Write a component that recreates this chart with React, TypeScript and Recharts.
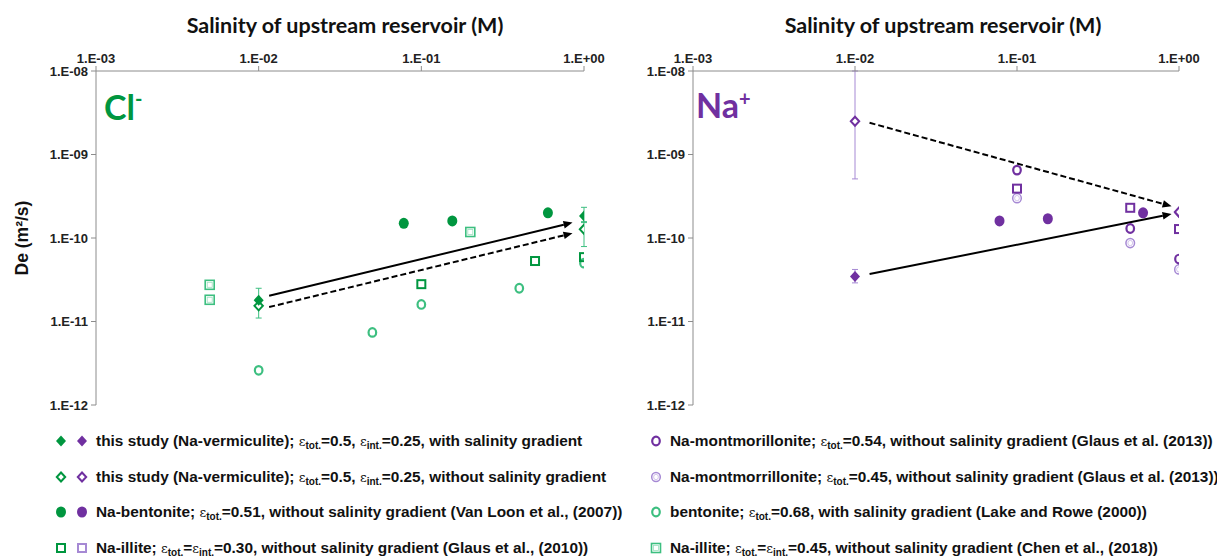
import React from "react";
import { ScatterChart, Scatter, XAxis, YAxis, ErrorBar, ReferenceLine } from "recharts";

type Pt = { x: number; y: number; err?: [number, number] };

const GREEN = "#00963f";
const GREEN_LIGHT = "#3dbf80";
const PURPLE = "#7030a0";
const PURPLE_LIGHT = "#a689d4";
const AXIS = "#8c8c8c";

const X_TICKS = [0.001, 0.01, 0.1, 1];
const Y_TICKS = [1e-12, 1e-11, 1e-10, 1e-9, 1e-8];

// Cl- panel
const clWithGradient: Pt[] = [
  { x: 0.01, y: 1.8e-11, err: [0.3e-11, 0.7e-11] },
  { x: 1, y: 1.83e-10, err: [0.3e-10, 0.5e-10] },
];
const clWithoutGradient: Pt[] = [
  { x: 0.01, y: 1.54e-11, err: [0.44e-11, 0.3e-11] },
  { x: 1, y: 1.27e-10, err: [0.48e-10, 0.3e-10] },
];
const clBentonite: Pt[] = [
  { x: 0.078, y: 1.5e-10 },
  { x: 0.155, y: 1.6e-10 },
  { x: 0.6, y: 2.0e-10 },
];
const clIlliteGlaus: Pt[] = [
  { x: 0.1, y: 2.8e-11 },
  { x: 0.5, y: 5.3e-11 },
  { x: 1, y: 5.9e-11 },
];
const clBentoniteLake: Pt[] = [
  { x: 0.01, y: 2.6e-12 },
  { x: 0.05, y: 7.4e-12 },
  { x: 0.1, y: 1.6e-11 },
  { x: 0.4, y: 2.5e-11 },
  { x: 1, y: 5.0e-11 },
];
const clIlliteChen: Pt[] = [
  { x: 0.005, y: 2.75e-11 },
  { x: 0.005, y: 1.82e-11 },
  { x: 0.2, y: 1.18e-10 },
];
const clArrowSolid = [{ x: 0.0116, y: 2.03e-11 }, { x: 0.85, y: 1.53e-10 }];
const clArrowDashed = [{ x: 0.0116, y: 1.49e-11 }, { x: 0.85, y: 1.14e-10 }];

// Na+ panel
const naWithGradient: Pt[] = [
  { x: 0.01, y: 3.45e-11, err: [0.55e-11, 0.75e-11] },
  { x: 1, y: 2.0e-10 },
];
const naWithoutGradient: Pt[] = [
  { x: 0.01, y: 2.5e-9, err: [1.99e-9, 7.5e-9] },
  { x: 1, y: 2.05e-10 },
];
const naBentonite: Pt[] = [
  { x: 0.078, y: 1.6e-10 },
  { x: 0.155, y: 1.7e-10 },
  { x: 0.6, y: 2.0e-10 },
];
const naIlliteGlaus: Pt[] = [
  { x: 0.1, y: 3.9e-10 },
  { x: 0.5, y: 2.3e-10 },
  { x: 1, y: 1.28e-10 },
];
const naMont054: Pt[] = [
  { x: 0.1, y: 6.5e-10 },
  { x: 0.5, y: 1.3e-10 },
  { x: 1, y: 5.6e-11 },
];
const naMont045: Pt[] = [
  { x: 0.1, y: 3.0e-10 },
  { x: 0.5, y: 8.7e-11 },
  { x: 1, y: 4.2e-11 },
];
const naArrowSolid = [{ x: 0.0123, y: 3.7e-11 }, { x: 0.9, y: 1.94e-10 }];
const naArrowDashed = [{ x: 0.0123, y: 2.4e-9 }, { x: 0.9, y: 2.4e-10 }];

const fmtExp = (v: number) => {
  const e = Math.round(Math.log10(v));
  return `1.E${e >= 0 ? "+" : "-"}${String(Math.abs(e)).padStart(2, "0")}`;
};

// marker shapes
const FilledDiamond = ({ cx, cy, color }: any) => (
  <path d={`M${cx},${cy - 5.5} L${cx + 5},${cy} L${cx},${cy + 5.5} L${cx - 5},${cy} Z`} fill={color} />
);
const OpenDiamond = ({ cx, cy, color }: any) => (
  <path
    d={`M${cx},${cy - 4.5} L${cx + 4.2},${cy} L${cx},${cy + 4.5} L${cx - 4.2},${cy} Z`}
    fill="#fff"
    stroke={color}
    strokeWidth={2}
  />
);
const FilledCircle = ({ cx, cy, color }: any) => <ellipse cx={cx} cy={cy} rx={5} ry={5.5} fill={color} />;
const OpenSquare = ({ cx, cy, color }: any) => (
  <rect x={cx - 4} y={cy - 4} width={8} height={8} fill="none" stroke={color} strokeWidth={2} />
);
const OpenCircle = ({ cx, cy, color }: any) => (
  <ellipse cx={cx} cy={cy} rx={3.8} ry={4.3} fill="none" stroke={color} strokeWidth={2.2} />
);
const DoubleCircle = ({ cx, cy, color }: any) => (
  <g>
    <ellipse cx={cx} cy={cy} rx={4.3} ry={4.6} fill="none" stroke={color} strokeWidth={1.5} />
    <ellipse cx={cx} cy={cy} rx={2.4} ry={2.7} fill="none" stroke={color} strokeWidth={0.8} opacity={0.6} />
  </g>
);
const DoubleSquare = ({ cx, cy, color }: any) => (
  <g>
    <rect x={cx - 4.5} y={cy - 4.5} width={9} height={9} fill="none" stroke={color} strokeWidth={1.6} />
    <rect x={cx - 2.5} y={cy - 2.5} width={5} height={5} fill="none" stroke={color} strokeWidth={0.8} opacity={0.5} />
  </g>
);

function ArrowLine(props: any) {
  const { x1, y1, x2, y2, strokeDasharray } = props;
  const ang = Math.atan2(y2 - y1, x2 - x1);
  const L = 9;
  const W = 3.8;
  const bx = x2 - L * Math.cos(ang);
  const by = y2 - L * Math.sin(ang);
  const px = -Math.sin(ang) * W;
  const py = Math.cos(ang) * W;
  return (
    <g>
      <line x1={x1} y1={y1} x2={bx} y2={by} stroke="#000" strokeWidth={2} strokeDasharray={strokeDasharray} />
      <polygon points={`${x2},${y2} ${bx + px},${by + py} ${bx - px},${by - py}`} fill="#000" />
    </g>
  );
}

type Series = { data: Pt[]; Shape: any; color: string; errColor?: string };

const tickStyle = { fontSize: 13, fontWeight: 700, fill: "#222", fontFamily: "'Liberation Sans', Arial, sans-serif" };

function Panel({
  left,
  width,
  margin,
  series,
  arrows,
}: {
  left: number;
  width: number;
  margin: { top: number; right: number; bottom: number; left: number };
  series: Series[];
  arrows: { seg: { x: number; y: number }[]; dashed: boolean }[];
}) {
  return (
    <div style={{ position: "absolute", left, top: 0 }}>
      <ScatterChart width={width} height={420} margin={margin}>
        <XAxis
          dataKey="x"
          type="number"
          scale="log"
          domain={[0.001, 1]}
          ticks={X_TICKS}
          orientation="top"
          allowDataOverflow
          tickFormatter={fmtExp}
          tick={tickStyle}
          axisLine={{ stroke: AXIS }}
          tickLine={{ stroke: AXIS }}
          tickSize={5}
          tickMargin={3}
          height={30}
        />
        <YAxis
          dataKey="y"
          type="number"
          scale="log"
          domain={[1e-12, 1e-8]}
          ticks={Y_TICKS}
          allowDataOverflow
          tickFormatter={fmtExp}
          tick={tickStyle}
          axisLine={{ stroke: AXIS }}
          tickLine={{ stroke: AXIS }}
          tickSize={5}
          tickMargin={3}
          width={60}
        />
        {arrows.map((a, i) => (
          <ReferenceLine
            key={i}
            segment={a.seg}
            shape={ArrowLine}
            strokeDasharray={a.dashed ? "6 3" : undefined}
            ifOverflow="visible"
          />
        ))}
        {series.map((s, i) => (
          <Scatter
            key={i}
            data={s.data}
            isAnimationActive={false}
            shape={(p: any) => <s.Shape cx={p.cx} cy={p.cy} color={s.color} />}
          >
            {s.errColor && (
              <ErrorBar dataKey="err" direction="y" width={3} stroke={s.errColor} strokeWidth={1} />
            )}
          </Scatter>
        ))}
      </ScatterChart>
    </div>
  );
}

const legendFont: React.CSSProperties = {
  fontFamily: "'Liberation Sans Narrow', 'Arial Narrow', 'Liberation Sans', Arial, sans-serif",
  fontWeight: 700,
  fontSize: 15.4,
  color: "#111",
  whiteSpace: "nowrap",
};

const Eps = ({ s }: { s: string }) => (
  <span>
    <span style={{ fontFamily: "'DejaVu Serif', serif", fontWeight: 400, fontSize: 13 }}>ε</span>
    <sub style={{ fontSize: 10, verticalAlign: "-3px" }}>{s}</sub>
  </span>
);

function LegendMarker({ x, y, Shape, color }: any) {
  return (
    <svg style={{ position: "absolute", left: x - 7, top: y - 7 }} width={14} height={14}>
      <Shape cx={7} cy={7} color={color} />
    </svg>
  );
}

function LegendText({ x, y, children }: any) {
  return (
    <div style={{ ...legendFont, position: "absolute", left: x, top: y - 10, lineHeight: "20px" }}>{children}</div>
  );
}

const ROWS = [441, 477, 512, 548];

export default function App() {
  return (
    <div style={{ position: "absolute", left: 0, top: 0, width: 1217, height: 558, background: "#fff" }}>
      <Panel
        left={600}
        width={617}
        margin={{ top: 41, right: 38, bottom: 15, left: 33 }}
        arrows={[
          { seg: naArrowSolid, dashed: false },
          { seg: naArrowDashed, dashed: true },
        ]}
        series={[
          { data: naMont045, Shape: DoubleCircle, color: PURPLE_LIGHT },
          { data: naMont054, Shape: OpenCircle, color: PURPLE },
          { data: naIlliteGlaus, Shape: OpenSquare, color: PURPLE },
          { data: naBentonite, Shape: FilledCircle, color: PURPLE },
          { data: naWithGradient, Shape: FilledDiamond, color: PURPLE, errColor: PURPLE_LIGHT },
          { data: naWithoutGradient, Shape: OpenDiamond, color: PURPLE, errColor: PURPLE_LIGHT },
        ]}
      />
      <Panel
        left={0}
        width={624}
        margin={{ top: 41, right: 40, bottom: 15, left: 36 }}
        arrows={[
          { seg: clArrowSolid, dashed: false },
          { seg: clArrowDashed, dashed: true },
        ]}
        series={[
          { data: clBentoniteLake, Shape: OpenCircle, color: GREEN_LIGHT },
          { data: clIlliteChen, Shape: DoubleSquare, color: GREEN_LIGHT },
          { data: clIlliteGlaus, Shape: OpenSquare, color: GREEN },
          { data: clBentonite, Shape: FilledCircle, color: GREEN },
          { data: clWithoutGradient, Shape: OpenDiamond, color: GREEN, errColor: GREEN_LIGHT },
          { data: clWithGradient, Shape: FilledDiamond, color: GREEN, errColor: GREEN_LIGHT },
        ]}
      />

      {/* axis titles */}
      {[345, 943].map((cx) => (
        <div
          key={cx}
          style={{
            position: "absolute",
            left: cx - 200,
            top: 12,
            width: 400,
            textAlign: "center",
            fontFamily: "Lato, 'Open Sans', sans-serif",
            fontWeight: 700,
            fontSize: 21.5,
            lineHeight: "26px",
            color: "#111",
          }}
        >
          Salinity of upstream reservoir (M)
        </div>
      ))}
      <div
        style={{
          position: "absolute",
          left: 22 - 60,
          top: 238 - 11,
          width: 120,
          textAlign: "center",
          transform: "rotate(-90deg)",
          fontFamily: "'Liberation Sans', Arial, sans-serif",
          fontWeight: 700,
          fontSize: 17.5,
          lineHeight: "22px",
          color: "#111",
        }}
      >
        De (m²/s)
      </div>

      {/* ion labels */}
      <div
        style={{
          position: "absolute",
          left: 104,
          top: 78,
          fontFamily: "Lato, 'Open Sans', sans-serif",
          fontWeight: 700,
          fontSize: 34,
          lineHeight: "40px",
          color: GREEN,
        }}
      >
        Cl<sup style={{ fontSize: 20, verticalAlign: "14px" }}>-</sup>
      </div>
      <div
        style={{
          position: "absolute",
          left: 696,
          top: 78,
          fontFamily: "Lato, 'Open Sans', sans-serif",
          fontWeight: 700,
          fontSize: 34,
          lineHeight: "40px",
          color: PURPLE,
        }}
      >
        Na<sup style={{ fontSize: 20, verticalAlign: "12px" }}>+</sup>
      </div>

      {/* legend, left column */}
      <LegendMarker x={61} y={ROWS[0]} Shape={FilledDiamond} color={GREEN} />
      <LegendMarker x={82} y={ROWS[0]} Shape={FilledDiamond} color={PURPLE} />
      <LegendText x={96} y={ROWS[0]}>
        this study (Na-vermiculite); <Eps s="tot." />=0.5, <Eps s="int." />=0.25, with salinity gradient
      </LegendText>
      <LegendMarker x={61} y={ROWS[1]} Shape={OpenDiamond} color={GREEN} />
      <LegendMarker x={82} y={ROWS[1]} Shape={OpenDiamond} color={PURPLE} />
      <LegendText x={96} y={ROWS[1]}>
        this study (Na-vermiculite); <Eps s="tot." />=0.5, <Eps s="int." />=0.25, without salinity gradient
      </LegendText>
      <LegendMarker x={61} y={ROWS[2]} Shape={FilledCircle} color={GREEN} />
      <LegendMarker x={82} y={ROWS[2]} Shape={FilledCircle} color={PURPLE} />
      <LegendText x={96} y={ROWS[2]}>
        Na-bentonite; <Eps s="tot." />=0.51, without salinity gradient (Van Loon et al., (2007))
      </LegendText>
      <LegendMarker x={61} y={ROWS[3]} Shape={OpenSquare} color={GREEN} />
      <LegendMarker x={82} y={ROWS[3]} Shape={OpenSquare} color={PURPLE_LIGHT} />
      <LegendText x={96} y={ROWS[3]}>
        Na-illite; <Eps s="tot." />=<Eps s="int." />=0.30, without salinity gradient (Glaus et al., (2010))
      </LegendText>

      {/* legend, right column */}
      <LegendMarker x={656} y={ROWS[0]} Shape={OpenCircle} color={PURPLE} />
      <LegendText x={670} y={ROWS[0]}>
        Na-montmorillonite; <Eps s="tot." />=0.54, without salinity gradient (Glaus et al. (2013))
      </LegendText>
      <LegendMarker x={656} y={ROWS[1]} Shape={DoubleCircle} color={PURPLE_LIGHT} />
      <LegendText x={670} y={ROWS[1]}>
        Na-montmorrillonite; <Eps s="tot." />=0.45, without salinity gradient (Glaus et al. (2013))
      </LegendText>
      <LegendMarker x={656} y={ROWS[2]} Shape={OpenCircle} color={GREEN_LIGHT} />
      <LegendText x={670} y={ROWS[2]}>
        bentonite; <Eps s="tot." />=0.68, with salinity gradient (Lake and Rowe (2000))
      </LegendText>
      <LegendMarker x={656} y={ROWS[3]} Shape={DoubleSquare} color={GREEN_LIGHT} />
      <LegendText x={670} y={ROWS[3]}>
        Na-illite; <Eps s="tot." />=<Eps s="int." />=0.45, without salinity gradient (Chen et al., (2018))
      </LegendText>
    </div>
  );
}
